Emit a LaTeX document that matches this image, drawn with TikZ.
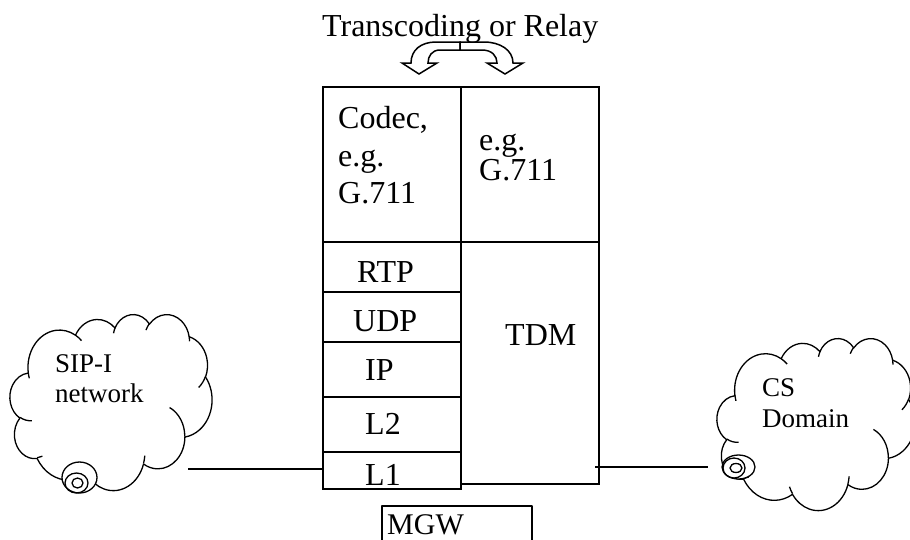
\documentclass[tikz,border=0pt]{standalone}
\usepackage{fontspec}
\setmainfont{Liberation Serif}
\tikzset{
  ca/.style n args={4}{insert path={arc[x radius=#1, y radius=#2, start angle={cpa(#1,#2,#3)}, delta angle={cdl(#1,#2,#3,#4)}]}},
  cl/.style={line width=1.3pt, line join=round},
  layer/.style={draw, line width=1.3pt, minimum width=138pt, inner sep=0pt, outer sep=0pt, anchor=north west},
  lbl/.style={inner sep=0pt, anchor=base west, font=\fontsize{32}{38}\selectfont},
  clbl/.style={inner sep=0pt, anchor=base west, font=\fontsize{27}{32}\selectfont},
  heavy/.style={line width=2.2pt},
  curvearrow/.style={line width=1.5pt, line join=miter},
}
\newcommand\mycloud[4]{%
  \begin{scope}[shift={(#1,#2)}, x=#3, y=#4]
    \draw[cl, fill=white] (3.900,14.370)
      [ca={6.753}{9.190}{-190.48748}{123.78053}]
      [ca={5.333}{7.267}{-144.10238}{89.94523}]
      [ca={4.365}{5.945}{-145.80792}{99.72302}]
      [ca={4.857}{6.595}{-130.98607}{117.24173}]
      [ca={5.333}{7.273}{-78.70888}{109.02692}]
      [ca={6.775}{9.220}{-46.26725}{130.26900}]
      [ca={5.785}{7.867}{0.62502}{114.03333}]
      [ca={6.752}{9.215}{22.45160}{115.17255}]
      [ca={7.720}{10.543}{66.24263}{75.71102}]
      [ca={4.360}{5.918}{-274.94208}{146.73557}]
      [ca={4.345}{5.945}{-246.82850}{152.51885}] -- cycle;
    \draw[cl] (4.693,26.177) [ca={4.345}{5.945}{86.74200}{26.42950}]
      (6.928,34.899) [ca={4.360}{5.918}{73.61047}{11.44747}]
      (16.478,39.090) [ca={6.752}{9.215}{137.62415}{14.08110}]
      (28.827,34.751) [ca={6.752}{9.215}{6.45327}{15.99835}]
      (34.129,22.954) [ca={5.785}{7.867}{-70.29235}{70.91737}]
      (41.798,15.354) [ca={5.333}{7.273}{30.31803}{27.75150}]
      (38.324,5.426) [ca={4.857}{6.595}{-13.74433}{14.85890}]
      (29.078,3.952) [ca={4.857}{6.595}{-149.18145}{18.19537}]
      (22.141,4.720) [ca={4.365}{5.945}{-163.49427}{19.01383}]
      (14.000,5.192) [ca={6.753}{9.190}{-66.70695}{12.31935}]
      (4.127,15.789) [ca={6.753}{9.190}{157.65435}{11.85817}];
  \end{scope}}
\begin{document}
\begin{tikzpicture}[x=1pt, y=-1pt,
  declare function={cpa(\qw,\qh,\qa)=atan2(\qw*sin(\qa),\qh*cos(\qa));
    cdl(\qw,\qh,\qa,\qd)=cpa(\qw,\qh,\qa+\qd)-cpa(\qw,\qh,\qa)+360*round((\qd-cpa(\qw,\qh,\qa+\qd)+cpa(\qw,\qh,\qa))/360);}]
\useasboundingbox (0,0) rectangle (910,539);

% clouds
\mycloud{10}{314}{4.6759pt}{-4.0741pt}
\draw[cl, fill=white] (79.5,477.5) ellipse[x radius=17.5, y radius=15.5];
\draw[cl] (76.5,483) ellipse[x radius=11.5, y radius=10];
\draw[cl] (77.5,483) ellipse[x radius=5.5, y radius=5];
\node[clbl] (sip1) at (55,372) {SIP-I};
\node[clbl] (sip2) at (55,402) {network};

\mycloud{717}{338}{4.5833pt}{-3.9815pt}
\draw[cl, fill=white] (738.5,467) ellipse[x radius=16.5, y radius=12];
\draw[cl] (734,468) ellipse[x radius=11, y radius=10];
\draw[cl] (736,468) ellipse[x radius=6, y radius=4.5];
\node[clbl] (cs1) at (762,396) {CS};
\node[clbl] (cs2) at (762,427) {Domain};

% protocol stack
\node[layer, minimum height=155pt] (codec) at (323,87) {};
\node[layer, minimum height=155pt] (egbox) at (461,87) {};
\node[layer, minimum height=50pt] (rtp) at (323,242) {};
\node[layer, minimum height=50pt] (udp) at (323,292) {};
\node[layer, minimum height=55pt] (ip) at (323,342) {};
\node[layer, minimum height=55pt] (l2) at (323,397) {};
\node[layer, minimum height=37pt] (l1) at (323,452) {};
\node[layer, minimum height=242pt] (tdm) at (461,242) {};
\draw[heavy] (ip.north west) -- (ip.north east);
\draw[heavy] (l1.north west) -- (l1.north east);
\draw[heavy] (tdm.north west) -- (tdm.south west);
\draw[heavy] (tdm.north west) -- (tdm.north east);

\node[lbl] (t1) at (338,128) {Codec,};
\node[lbl] (t2) at (338,166) {e.g.};
\node[lbl] (t3) at (338,203) {G.711};
\node[lbl] (t4) at (479,150) {e.g.};
\node[lbl] (t5) at (479,180) {G.711};
\node[lbl] (trtp) at (357,282) {RTP};
\node[lbl] (tudp) at (353,331) {UDP};
\node[lbl] (tip) at (365,380) {IP};
\node[lbl] (tl2) at (365,434) {L2};
\node[lbl] (tl1) at (365,485) {L1};
\node[lbl] (ttdm) at (505,345) {TDM};

% title and curved arrows
\node[lbl] (title) at (322,36) {Transcoding or Relay};
\draw[curvearrow] (460,42) -- (436,42) .. controls (421,42) and (411,50) .. (411,63)
  -- (402,63) -- (419,74) -- (437,63) -- (428,63)
  .. controls (428,56) and (432,50) .. (440,50) -- (460,50) -- cycle;
\draw[curvearrow] (460,42) -- (484,42) .. controls (500,42) and (513,50) .. (513,63)
  -- (523,63) -- (505,74) -- (487,63) -- (497,63)
  .. controls (497,56) and (492,50) .. (482,50) -- (460,50) -- cycle;

% MGW
\coordinate (mgwbl) at (382,545);
\coordinate (mgwtr) at (532,506);
\coordinate (mgwbr) at (532,545);
\draw[cl] (mgwbl) |- (mgwtr) -- (mgwbr);
\node[lbl, font=\fontsize{30}{36}\selectfont] (tmgw) at (387,534) {MGW};

% connectors
\coordinate (sipend) at (188,469);
\coordinate (csend) at (708,467);
\draw[cl] (sipend) -- (sipend -| l1.west);
\draw[cl] ([xshift=-4pt]tdm.east |- csend) -- (csend);
\end{tikzpicture}
\end{document}
